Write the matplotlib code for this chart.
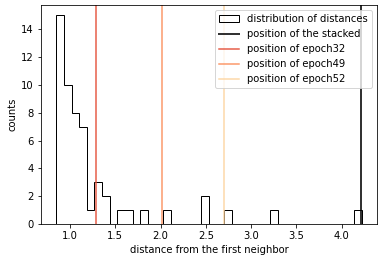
import numpy as np
import matplotlib
matplotlib.use("Agg")
import matplotlib.pyplot as plt

# histogram data (40 bins between min and max distance)
dist_min = 0.85
dist_max = 4.22
counts = [15, 10, 8, 7, 1, 3, 2, 0, 1, 1,
          0, 1, 0, 0, 1, 0, 0, 0, 0, 2,
          0, 0, 1, 0, 0, 0, 0, 0, 1, 0,
          0, 0, 0, 0, 0, 0, 0, 0, 0, 1]
stacked_pos = 4.215
epoch_labels = ["epoch32", "epoch49", "epoch52"]
epoch_pos = [1.285, 2.015, 2.695]
epoch_colors = ["#e34a33", "#fc8d59", "#fdd49e"]

edges = np.linspace(dist_min, dist_max, len(counts) + 1)

fig = plt.figure(figsize=(382 / 72, 262 / 72), dpi=72)
ax = fig.add_axes([41 / 382, 1 - 224 / 262, (377 - 41) / 382, (224 - 5) / 262])

ax.hist(edges[:-1], bins=edges, weights=counts, histtype="step", color="k",
        label="distribution of distances")
ax.axvline(stacked_pos, color="k", alpha=0.8, lw=2, label="position of the stacked")
for lab, pos, col in zip(epoch_labels, epoch_pos, epoch_colors):
    ax.axvline(pos, color=col, alpha=0.9, lw=1.5, label=f"position of {lab}")

ax.set_xlabel("distance from the first neighbor")
ax.set_ylabel("counts")
ax.legend(loc="upper right")
fig.savefig("out.png", dpi=72)
